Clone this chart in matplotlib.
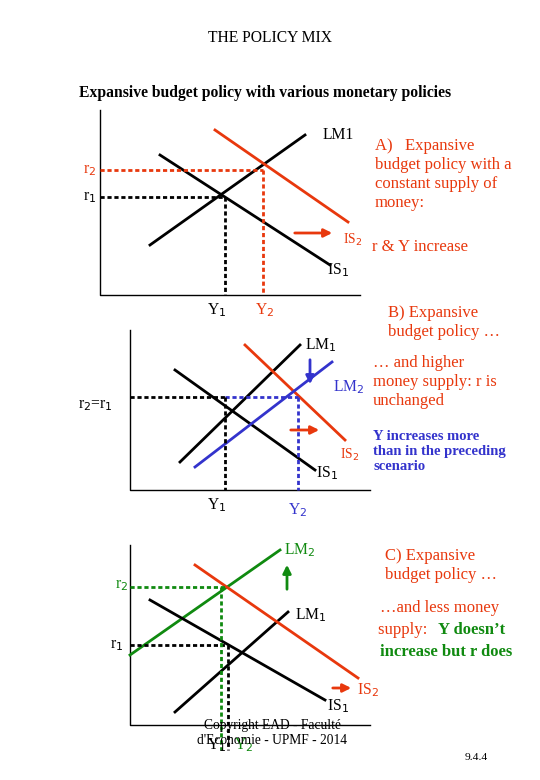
import matplotlib.pyplot as plt

plt.rcParams['font.family'] = ['Liberation Serif', 'DejaVu Serif']

RED = "#e8380d"
BLUE = "#3333cc"
GREEN = "#108a10"

# curves: (x0, y0, x1, y1, colour) in picture pixels
lines_a = [(150, 245, 305, 135, "k"), (160, 155, 330, 265, "k"), (215, 130, 348, 222, RED)]
lines_b = [(180, 462, 300, 345, "k"), (175, 370, 315, 470, "k"),
           (245, 345, 345, 440, RED), (195, 467, 332, 362, BLUE)]
lines_c = [(130, 655, 280, 550, GREEN), (175, 712, 288, 612, "k"),
           (150, 600, 325, 700, "k"), (195, 565, 358, 678, RED)]

# dashed guides: (x0, y0, x1, y1, colour)
dash_a = [(100, 170, 263, 170, RED), (263, 170, 263, 295, RED),
          (100, 197, 225, 197, "k"), (225, 197, 225, 295, "k")]
dash_b = [(130, 397, 225, 397, "k"), (225, 397, 298, 397, BLUE),
          (225, 397, 225, 490, "k"), (298, 397, 298, 490, BLUE)]
dash_c = [(130, 587, 225, 587, GREEN), (130, 645, 225, 645, "k"),
          (221, 587, 221, 750, GREEN), (228, 645, 228, 750, "k")]

axes_frames = [(100, 110, 295, 360), (130, 330, 490, 370), (130, 545, 725, 370)]
arrows = [(292, 233, 335, 233, RED), (288, 430, 322, 430, RED),
          (310, 357, 310, 387, BLUE), (287, 592, 287, 562, GREEN),
          (330, 688, 354, 688, RED)]

fig = plt.figure(figsize=(5.4, 7.8), dpi=100)
ax = fig.add_axes([0, 0, 1, 1])
ax.set_xlim(0, 540)
ax.set_ylim(780, 0)
ax.axis("off")

for x0, ytop, ybot, xend in axes_frames:
    ax.plot([x0, x0, xend], [ytop, ybot, ybot], color="k", lw=1)
for x0, y0, x1, y1, c in lines_a + lines_b + lines_c:
    ax.plot([x0, x1], [y0, y1], color=c, lw=2)
for x0, y0, x1, y1, c in dash_a + dash_b + dash_c:
    ax.plot([x0, x1], [y0, y1], color=c, lw=2, ls=(0, (1.5, 1)))
for x0, y0, x1, y1, c in arrows:
    ax.annotate("", xy=(x1, y1), xytext=(x0, y0),
                arrowprops=dict(arrowstyle="-|>", color=c, lw=2, mutation_scale=12))

def t(x, y, s, c="k", size=13, **kw):
    ax.text(x, y, s, color=c, fontsize=size * 0.75, va="center", **kw)

t(270, 38, "THE POLICY MIX", ha="center", size=15)
t(265, 93, "Expansive budget policy with various monetary policies", ha="center", size=15, weight="bold")

# panel A
t(323, 135, "LM1", size=15)
t(327, 270, "IS$_1$", size=15)
t(343, 240, "IS$_2$", RED, size=13)
t(83, 170, "r$_2$", RED, size=15)
t(83, 197, "r$_1$", size=15)
t(207, 310, "Y$_1$", size=15)
t(255, 310, "Y$_2$", RED, size=15)
ax.text(375, 138, "A)   Expansive\nbudget policy with a\nconstant supply of\nmoney:", color=RED,
        fontsize=12, va="top", linespacing=1.25)
t(372, 247, "r & Y increase", RED, size=16)

# panel B
t(305, 345, "LM$_1$", size=15)
t(333, 387, "LM$_2$", BLUE, size=15)
t(316, 473, "IS$_1$", size=15)
t(340, 455, "IS$_2$", RED, size=13)
t(78, 405, "r$_2$=r$_1$", size=15)
t(207, 505, "Y$_1$", size=15)
t(288, 510, "Y$_2$", BLUE, size=15)
ax.text(388, 305, "B) Expansive\nbudget policy \u2026", color=RED, fontsize=12, va="top", linespacing=1.25)
ax.text(373, 355, "\u2026 and higher\nmoney supply: r is\nunchanged", color=RED, fontsize=12, va="top", linespacing=1.25)
ax.text(373, 430, "Y increases more\nthan in the preceding\nscenario", color=BLUE, fontsize=10.5,
        va="top", weight="bold", linespacing=1.2)

# panel C
t(284, 550, "LM$_2$", GREEN, size=15)
t(295, 615, "LM$_1$", size=15)
t(327, 706, "IS$_1$", size=15)
t(357, 690, "IS$_2$", RED, size=15)
t(115, 585, "r$_2$", GREEN, size=15)
t(110, 645, "r$_1$", size=15)
t(207, 745, "Y$_1$", size=15)
t(234, 745, "Y$_2$", GREEN, size=15)
ax.text(385, 548, "C) Expansive\nbudget policy \u2026", color=RED, fontsize=12, va="top", linespacing=1.25)
ax.text(380, 600, "\u2026and less money", color=RED, fontsize=12, va="top")
ax.text(378, 622, "supply: ", color=RED, fontsize=12, va="top")
ax.text(438, 622, "Y doesn\u2019t", color=GREEN, fontsize=12, va="top", weight="bold")
ax.text(380, 644, "increase but r does", color=GREEN, fontsize=12, va="top", weight="bold")

t(272, 733, "Copyright EAD - Facult\u00e9\nd'Economie - UPMF - 2014", ha="center", size=13)
t(465, 757, "9.4.4", size=11)

fig.savefig("out.png", dpi=100)
